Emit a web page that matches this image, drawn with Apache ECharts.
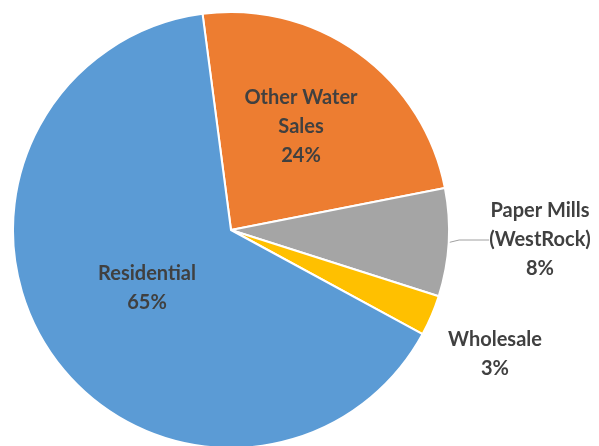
<!DOCTYPE html>
<html>
<head>
<meta charset="utf-8">
<script src="https://cdn.jsdelivr.net/npm/echarts@6/dist/echarts.min.js"></script>
<style>
  html, body { margin: 0; padding: 0; background: #fff; }
  #main { width: 599px; height: 446px; }
</style>
</head>
<body>
<div id="main"></div>
<script>
// slices, clockwise from the top
const names = ['Other Water\nSales', 'Paper Mills\n(WestRock)', 'Wholesale', 'Residential'];
const values = [24, 8, 3, 65];
const colors = ['#ED7D31', '#A5A5A5', '#FFC000', '#5B9BD5'];
const inside = [true, false, false, true];

// where Excel put the labels
const labelPos = [
  { x: 301, y: 127 },
  { x: 540, y: 240 },
  { x: 495, y: 354 },
  { x: 147, y: 288 }
];

const chart = echarts.init(document.getElementById('main'));

const option = {
  animation: false,
  series: [
    {
      type: 'pie',
      center: [231, 230],
      radius: 218,
      startAngle: 97.5,
      clockwise: true,
      avoidLabelOverlap: false,
      label: {
        show: true,
        formatter: '{b}\n{d}%',
        fontFamily: 'Lato, "Open Sans", sans-serif',
        fontWeight: 'bold',
        fontSize: 20,
        lineHeight: 29,
        color: '#404040'
      },
      labelLine: {
        show: true,
        lineStyle: { color: '#a0a0a0', width: 1 }
      },
      labelLayout: function (params) {
        const p = labelPos[params.dataIndex];
        return { x: p.x, y: p.y, align: 'center', verticalAlign: 'middle' };
      },
      itemStyle: { borderColor: '#fff', borderWidth: 2 },
      data: names.map((n, i) => ({
        name: n,
        value: values[i],
        itemStyle: { color: colors[i] },
        label: { position: inside[i] ? 'inside' : 'outside' },
        labelLine: { show: i === 1 }
      }))
    }
  ]
};

chart.setOption(option);
</script>
</body>
</html>
